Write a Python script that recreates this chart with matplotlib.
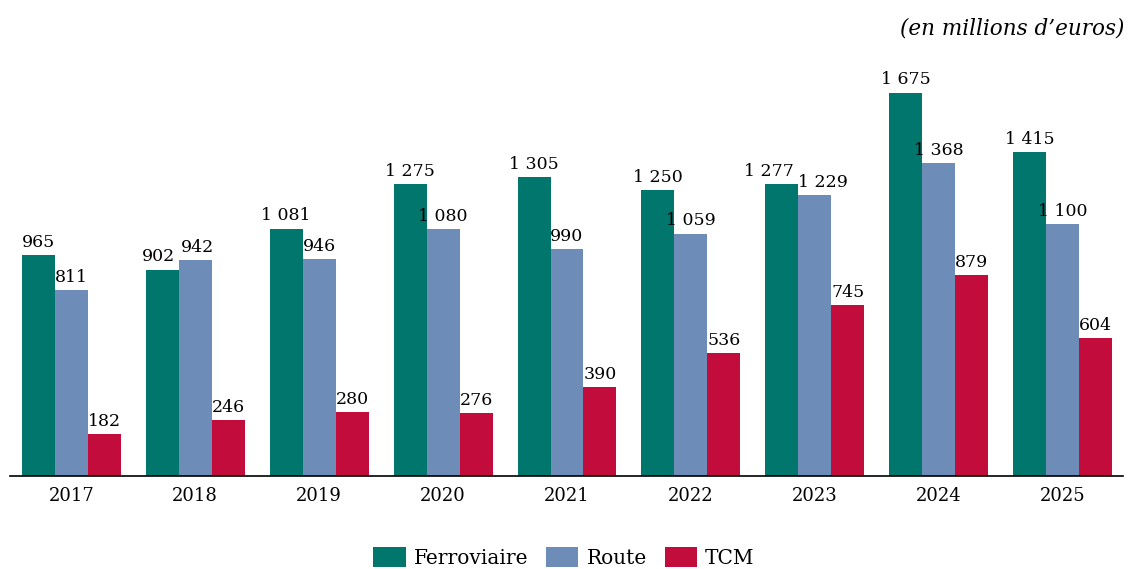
import matplotlib.pyplot as plt
import numpy as np

years = ['2017', '2018', '2019', '2020', '2021', '2022', '2023', '2024', '2025']
ferroviaire = [965, 902, 1081, 1275, 1305, 1250, 1277, 1675, 1415]
route = [811, 942, 946, 1080, 990, 1059, 1229, 1368, 1100]
tcm = [182, 246, 280, 276, 390, 536, 745, 879, 604]

series = [('Ferroviaire', ferroviaire, '#00766C'),
          ('Route', route, '#6D8DB8'),
          ('TCM', tcm, '#C20C3B')]

# labels pushed sideways where they would collide (year index, series index): points
nudge = {(1, 0): -3, (1, 1): 2, (6, 0): -9, (6, 1): 6}

plt.rcParams['font.family'] = ['DejaVu Serif']


def fmt(v):
    # French thousands separator
    return f'{v:,}'.replace(',', ' ')


fig = plt.figure(figsize=(11.28, 5.69), dpi=100)
ax = fig.add_axes([10 / 1128, 1 - 476 / 569, 1113 / 1128, (476 - 64) / 569])

x = np.arange(len(years))
w = 0.266
for i, (name, vals, col) in enumerate(series):
    pos = x + (i - 1) * w
    ax.bar(pos, vals, width=w, color=col, label=name)
    for j, (p, v) in enumerate(zip(pos, vals)):
        ax.annotate(fmt(v), (p, v), xytext=(nudge.get((j, i), 0), 3),
                    textcoords='offset points', ha='center', va='bottom',
                    fontsize=12.5)

ax.set_xlim(-0.494, 8.486)
ax.set_ylim(0, 1800)
ax.set_xticks(x)
ax.set_xticklabels(years, fontsize=13)
ax.tick_params(axis='x', length=0, pad=8)
ax.set_yticks([])
for s in ['top', 'right', 'left']:
    ax.spines[s].set_visible(False)
ax.spines['bottom'].set_linewidth(1.2)

fig.text(1124 / 1128, 1 - 28 / 569, '(en millions d\u2019euros)', ha='right', va='center',
         fontsize=15.5, style='italic')

fig.legend(loc='lower center', bbox_to_anchor=(0.5, -0.03), ncol=3, frameon=False,
           fontsize=14.5, handlelength=1.6, handleheight=1.2, columnspacing=0.9,
           handletextpad=0.4)

fig.savefig('out.png', dpi=100)
